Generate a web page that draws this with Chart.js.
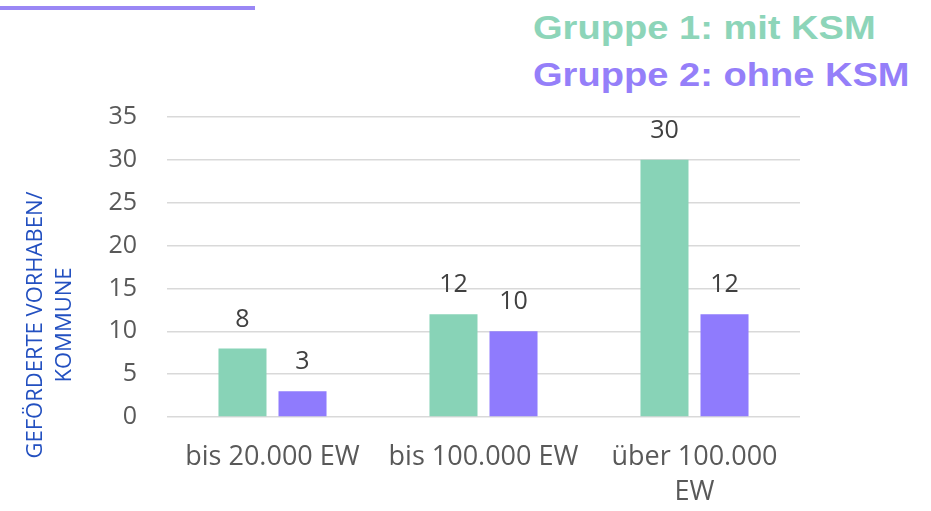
<!DOCTYPE html>
<html>
<head>
<meta charset="utf-8">
<script src="https://cdn.jsdelivr.net/npm/chart.js@4.4.1/dist/chart.umd.min.js"></script>
<style>
  html, body { margin:0; padding:0; background:#fff; }
  #wrap { position:relative; width:931px; height:511px; overflow:hidden; }
  #topline { position:absolute; left:0; top:6px; width:255px; height:4px; background:#9A87F5; }
  .leg { position:absolute; left:533px; font-family:"Liberation Sans", Arial, sans-serif; font-weight:bold;
         font-size:34px; line-height:40px; white-space:nowrap; transform:scaleX(1.12); transform-origin:left center; }
  #leg1 { top:7px; color:#8DD5B9; }
  #leg2 { top:54px; color:#957FF9; }
  canvas { position:absolute; left:0; top:0; }
</style>
</head>
<body>
<div id="wrap">
  <div id="topline"></div>
  <div class="leg" id="leg1">Gruppe 1: mit KSM</div>
  <div class="leg" id="leg2">Gruppe 2: ohne KSM</div>
  <canvas id="chart" width="931" height="511"></canvas>
</div>
<script>
// values
const categories = ['bis 20.000 EW', 'bis 100.000 EW', ['über 100.000', 'EW']];
const seriesNames = ['Gruppe 1: mit KSM', 'Gruppe 2: ohne KSM'];
const group1 = [8, 12, 30];
const group2 = [3, 10, 12];
const yTicks = [0, 5, 10, 15, 20, 25, 30, 35];
const yTitle = ['GEFÖRDERTE VORHABEN/', 'KOMMUNE'];

const GREEN = '#88D3B7', PURPLE = '#8F7BFD';
const TXT = '#595959';
const FONT = '"Open Sans", sans-serif';

/* value labels above bars + rotated y-axis title */
const extras = {
  id: 'extras',
  afterDatasetsDraw(chart){
    const ctx = chart.ctx;
    ctx.save();
    ctx.font = '25px ' + FONT;
    ctx.fillStyle = '#404040';
    ctx.textAlign = 'center';
    ctx.textBaseline = 'middle';
    chart.data.datasets.forEach((ds, i) => {
      chart.getDatasetMeta(i).data.forEach((bar, j) => {
        ctx.fillText(String(ds.data[j]), bar.x, bar.y - 29);
      });
    });
    // y title
    ctx.font = '22px ' + FONT;
    ctx.fillStyle = '#2350C0';
    ctx.translate(0, 325);
    ctx.rotate(-Math.PI/2);
    ctx.fillText(yTitle[0], 0, 36);
    ctx.fillText(yTitle[1], 0, 65);
    ctx.restore();
  }
};

new Chart(document.getElementById('chart').getContext('2d'), {
  type: 'bar',
  data: {
    labels: categories,
    datasets: [
      { label: seriesNames[0], data: group1, backgroundColor: GREEN, barPercentage: 0.8, categoryPercentage: 0.569 },
      { label: seriesNames[1], data: group2, backgroundColor: PURPLE, barPercentage: 0.8, categoryPercentage: 0.569 }
    ]
  },
  plugins: [extras],
  options: {
    responsive: false,
    animation: false,
    layout: { padding: { left: 0, top: 117, right: 131, bottom: 0 } },
    plugins: { legend: { display: false }, tooltip: { enabled: false } },
    scales: {
      x: {
        grid: { display: false },
        border: { display: false },
        ticks: { color: TXT, font: { family: FONT, size: 27, lineHeight: 1.3 }, padding: 15, maxRotation: 0, autoSkip: false },
        afterFit: s => { s.height = 94; }
      },
      y: {
        min: 0, max: 35,
        afterBuildTicks: s => { s.ticks = yTicks.map(v => ({ value: v })); },
        grid: { color: '#D9D9D9', lineWidth: 1.5, drawTicks: false },
        border: { display: false },
        ticks: { color: TXT, font: { family: FONT, size: 25 }, padding: 30 },
        afterFit: s => { s.width = 167; }
      }
    }
  }
});
</script>
</body>
</html>
